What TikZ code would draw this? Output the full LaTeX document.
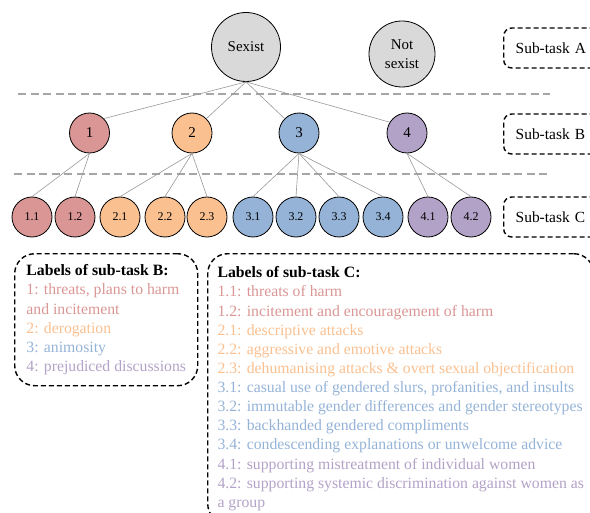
\documentclass[tikz,border=0pt]{standalone}
\usepackage{fontspec}
\setmainfont{Liberation Serif}
\usetikzlibrary{positioning}
\definecolor{lblred}{HTML}{D99694}
\definecolor{lblorange}{HTML}{FAC090}
\definecolor{lblblue}{HTML}{95B3D7}
\definecolor{lblpurple}{HTML}{B3A2C7}
\definecolor{lblgray}{HTML}{D9D9D9}
\definecolor{sepgray}{HTML}{A6A6A6}
\tikzset{
	catnode/.style={circle, draw=black, line width=0.8bp, minimum size=40bp, inner sep=0pt, font=\fontsize{15}{19}\selectfont},
	topnode/.style={catnode, minimum size=69bp, fill=lblgray, align=center},
	subnode/.style={catnode, font=\fontsize{12}{14}\selectfont},
	treeline/.style={draw=gray!80, line width=0.6bp},
	levelline/.style={draw=sepgray, line width=1.5bp, dash pattern=on 8bp off 4.5bp},
	taskbox/.style={draw=black, line width=1.4bp, dash pattern=on 5bp off 3bp, rounded corners=8bp, anchor=west, minimum height=40bp, text width=75bp, inner xsep=12bp, align=left, font=\fontsize{15.5}{19}\selectfont},
	labelbox/.style={draw=black, line width=1.4bp, dash pattern=on 5bp off 3bp, rounded corners=20bp, anchor=north west, align=left, font=\fontsize{15.8}{19.2}\selectfont},
}

\begin{document}
\begin{tikzpicture}[x=1bp, y=-1bp]
	\clip (0,0) rectangle (590,513);
	% sub-task A
	\node[topnode] (sexist) at (246,47) {Sexist};
	\node[topnode, minimum size=66bp] (notsexist) at (402,54) {Not\\sexist};
	% level separators
	\draw[levelline] (18,94) -- (550,94);
	\draw[levelline] (14,174) -- (548,174);
	% sub-task B
	\node[catnode, fill=lblred] (b1) at (89.5,133) {1};
	\node[catnode, fill=lblorange] (b2) at (192,133) {2};
	\node[catnode, fill=lblblue] (b3) at (299,133) {3};
	\node[catnode, fill=lblpurple] (b4) at (407,133) {4};
	\draw[treeline] (sexist.south) -- (b1.45);
	\draw[treeline] (sexist.south) -- (b2.45);
	\draw[treeline] (sexist.south) -- (b3.135);
	\draw[treeline] (sexist.south) -- (b4.148);
	% sub-task C
	\foreach \name/\lbl/\x/\clr in {c11/1.1/32/lblred, c12/1.2/75/lblred,
		c21/2.1/120/lblorange, c22/2.2/165/lblorange, c23/2.3/207/lblorange,
		c31/3.1/253/lblblue, c32/3.2/296/lblblue, c33/3.3/339/lblblue, c34/3.4/383/lblblue,
		c41/4.1/428/lblpurple, c42/4.2/471/lblpurple}
		\node[subnode, fill=\clr] (\name) at (\x,217) {\lbl};
	\foreach \p/\c in {b1/c11, b1/c12, b2/c21, b2/c22, b2/c23,
		b3/c31, b3/c32, b3/c33, b3/c34, b4/c41, b4/c42}
		\draw[treeline] (\p.south) -- (\c.north);
	% task labels
	\node[taskbox] (taskA) at (503,48) {Sub-task A};
	\node[taskbox] (taskB) at (503,134) {Sub-task B};
	\node[taskbox] (taskC) at (503,217) {Sub-task C};
	% legends
	\node[labelbox, minimum width=183bp, minimum height=132bp] (legendB) at (14,253) {
		\textbf{Labels of sub-task B:}\\
		\textcolor{lblred}{1: threats, plans to harm}\\
		\textcolor{lblred}{and incitement}\\
		\textcolor{lblorange}{2: derogation}\\
		\textcolor{lblblue}{3: animosity}\\
		\textcolor{lblpurple}{4: prejudiced discussions}};
	\node[labelbox, minimum width=386bp, minimum height=270bp] (legendC) at (207,253) {
		\textbf{Labels of sub-task C:}\\
		\textcolor{lblred}{1.1: threats of harm}\\
		\textcolor{lblred}{1.2: incitement and encouragement of harm}\\
		\textcolor{lblorange}{2.1: descriptive attacks}\\
		\textcolor{lblorange}{2.2: aggressive and emotive attacks}\\
		\textcolor{lblorange}{2.3: dehumanising attacks \& overt sexual objectification}\\
		\textcolor{lblblue}{3.1: casual use of gendered slurs, profanities, and insults}\\
		\textcolor{lblblue}{3.2: immutable gender differences and gender stereotypes}\\
		\textcolor{lblblue}{3.3: backhanded gendered compliments}\\
		\textcolor{lblblue}{3.4: condescending explanations or unwelcome advice}\\
		\textcolor{lblpurple}{4.1: supporting mistreatment of individual women}\\
		\textcolor{lblpurple}{4.2: supporting systemic discrimination against women as}\\
		\textcolor{lblpurple}{a group}};
\end{tikzpicture}
\end{document}
